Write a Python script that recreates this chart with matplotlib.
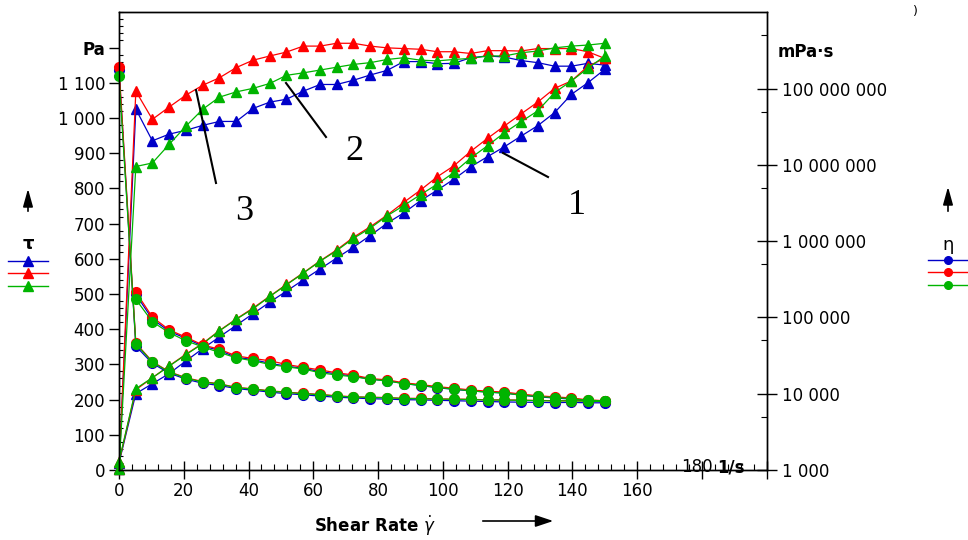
import matplotlib
matplotlib.use("Agg")
import matplotlib.pyplot as plt
from matplotlib.lines import Line2D
from matplotlib.ticker import MultipleLocator, FixedLocator, NullFormatter

# shear rate points (1/s), same for ramp up and ramp down
rate = [0, 5.2, 10.3, 15.5, 20.7, 25.9, 31.0, 36.2, 41.4, 46.6,
        51.7, 56.9, 62.1, 67.2, 72.4, 77.6, 82.8, 87.9, 93.1, 98.3,
        103.4, 108.6, 113.8, 119.0, 124.1, 129.3, 134.5, 139.7, 144.8, 150.0]

# shear stress tau (Pa), ramp up
tau_up_blue = [20, 217, 245, 274, 310, 345, 378, 411, 444, 477,
               508, 540, 571, 602, 633, 666, 701, 730, 765, 795,
               826, 861, 890, 918, 948, 978, 1015, 1067, 1100, 1138]
tau_up_red = [22, 228, 262, 296, 329, 360, 396, 429, 460, 494,
              527, 560, 594, 625, 661, 691, 724, 760, 795, 833,
              864, 905, 942, 977, 1011, 1045, 1084, 1105, 1147, 1169]
tau_up_green = [24, 231, 262, 295, 328, 359, 395, 428, 458, 493,
                526, 559, 593, 623, 658, 687, 722, 751, 782, 812,
                845, 886, 921, 958, 989, 1020, 1072, 1105, 1141, 1176]

# shear stress tau (Pa), ramp down (listed from low rate to high rate)
tau_dn_blue = [2, 1025, 935, 954, 965, 979, 990, 990, 1027, 1045,
               1053, 1076, 1095, 1095, 1107, 1122, 1135, 1160, 1160, 1154,
               1155, 1171, 1176, 1173, 1163, 1157, 1147, 1147, 1155, 1150]
tau_dn_red = [3, 1076, 996, 1031, 1065, 1093, 1114, 1143, 1164, 1176,
              1187, 1204, 1204, 1212, 1212, 1204, 1199, 1197, 1195, 1188,
              1188, 1183, 1191, 1191, 1190, 1197, 1197, 1197, 1188, 1169]
tau_dn_green = [2, 862, 872, 925, 977, 1025, 1059, 1074, 1084, 1098,
                1121, 1128, 1136, 1144, 1152, 1157, 1166, 1171, 1164, 1162,
                1166, 1169, 1176, 1176, 1185, 1190, 1199, 1204, 1207, 1212]

# viscosity eta (mPa·s), ramp up
eta_up_blue = [1.75e8, 4.2e4, 2.5e4, 1.86e4, 1.55e4, 1.37e4, 1.28e4, 1.17e4, 1.11e4, 1.05e4,
               1.0e4, 9.7e3, 9.3e3, 9.0e3, 8.8e3, 8.6e3, 8.5e3, 8.35e3, 8.3e3, 8.2e3,
               8.1e3, 8.0e3, 7.9e3, 7.8e3, 7.75e3, 7.7e3, 7.65e3, 7.7e3, 7.6e3, 7.6e3]
eta_up_red = [1.92e8, 4.6e4, 2.64e4, 1.94e4, 1.62e4, 1.44e4, 1.35e4, 1.21e4, 1.16e4, 1.09e4,
              1.05e4, 1.01e4, 9.8e3, 9.4e3, 9.1e3, 9.0e3, 8.9e3, 8.7e3, 8.7e3, 8.55e3,
              8.5e3, 8.45e3, 8.3e3, 8.3e3, 8.25e3, 8.15e3, 8.1e3, 8.1e3, 8.05e3, 8.0e3]
eta_up_green = [1.46e8, 4.5e4, 2.6e4, 1.92e4, 1.6e4, 1.42e4, 1.34e4, 1.2e4, 1.15e4, 1.08e4,
                1.04e4, 1.0e4, 9.7e3, 9.3e3, 9.05e3, 8.95e3, 8.85e3, 8.65e3, 8.6e3, 8.5e3,
                8.45e3, 8.4e3, 8.25e3, 8.25e3, 8.2e3, 8.1e3, 8.05e3, 8.05e3, 8.0e3, 7.95e3]

# viscosity eta (mPa·s), ramp down, rate[1:] (no value at rate 0)
eta_dn_blue = [2.0e5, 9.5e4, 6.6e4, 5.3e4, 4.2e4, 3.7e4, 3.0e4, 2.8e4, 2.5e4, 2.3e4,
               2.15e4, 1.95e4, 1.82e4, 1.7e4, 1.55e4, 1.48e4, 1.36e4, 1.28e4, 1.2e4, 1.14e4,
               1.09e4, 1.05e4, 1.02e4, 9.6e3, 9.1e3, 8.8e3, 8.5e3, 8.0e3, 7.9e3]
eta_dn_red = [2.16e5, 1.01e5, 6.87e4, 5.5e4, 4.35e4, 3.83e4, 3.13e4, 2.9e4, 2.7e4, 2.42e4,
              2.22e4, 2.05e4, 1.88e4, 1.76e4, 1.58e4, 1.52e4, 1.39e4, 1.32e4, 1.24e4, 1.18e4,
              1.12e4, 1.08e4, 1.05e4, 9.9e3, 9.4e3, 9.1e3, 8.8e3, 8.3e3, 8.1e3]
eta_dn_green = [1.73e5, 8.77e4, 6.31e4, 4.94e4, 4.1e4, 3.48e4, 2.95e4, 2.7e4, 2.42e4, 2.25e4,
                2.11e4, 1.88e4, 1.76e4, 1.67e4, 1.55e4, 1.47e4, 1.36e4, 1.29e4, 1.21e4, 1.15e4,
                1.09e4, 1.05e4, 1.02e4, 9.6e3, 9.2e3, 8.9e3, 8.6e3, 8.2e3, 8.05e3]

left_ticks = [0, 100, 200, 300, 400, 500, 600, 700, 800, 900, 1000, 1100, 1200]
left_labels = ["0", "100", "200", "300", "400", "500", "600", "700", "800", "900",
               "1 000", "1 100", "Pa"]
x_ticks = [0, 20, 40, 60, 80, 100, 120, 140, 160, 180, 200]
x_labels = ["0", "20", "40", "60", "80", "100", "120", "140", "160", "", ""]
right_ticks = [1e3, 1e4, 1e5, 1e6, 1e7, 1e8]
right_labels = ["1 000", "10 000", "100 000", "1 000 000", "10 000 000", "100 000 000"]
right_minor = [5e3, 5e4, 5e5, 5e6, 5e7, 5e8]

BLUE = "#0000c8"
RED = "#ff0000"
GREEN = "#00b400"

plt.rcParams["font.family"] = "DejaVu Sans"

W, H = 968, 540
fig = plt.figure(figsize=(9.68, 5.4), dpi=100)
ax = fig.add_axes([119 / W, 1 - 470 / H, (766.7 - 119) / W, (470 - 12.3) / H])
ax2 = ax.twinx()

def fx(px):
    return px / W

def fy(py):
    return 1 - py / H

# shear stress: triangles, up ramp then down ramp
for col, up, dn in [(BLUE, tau_up_blue, tau_dn_blue),
                    (RED, tau_up_red, tau_dn_red),
                    (GREEN, tau_up_green, tau_dn_green)]:
    ax.plot(rate + rate[::-1], up + dn[::-1], color=col, lw=0.9, marker="^",
            ms=7, mec=col, mfc=col, clip_on=False)

# viscosity: circles on log axis
for col, up, dn in [(BLUE, eta_up_blue, eta_dn_blue),
                    (RED, eta_up_red, eta_dn_red),
                    (GREEN, eta_up_green, eta_dn_green)]:
    ax2.plot(rate + rate[:0:-1], up + dn[::-1], color=col, lw=0.9, marker="o",
             ms=7, mec=col, mfc=col, clip_on=False)

ax.set_xlim(0, 200)
ax.set_ylim(0, 1300)
ax2.set_yscale("log")
ax2.set_ylim(1e3, 1e9)

ax.set_xticks(x_ticks)
ax.set_xticklabels(x_labels)
ax.xaxis.set_minor_locator(MultipleLocator(4))
ax.set_yticks(left_ticks)
ax.set_yticklabels(left_labels)
ax.yaxis.set_minor_locator(MultipleLocator(20))
ax.get_yticklabels()[-1].set_fontweight("bold")

ax2.yaxis.set_major_locator(FixedLocator(right_ticks))
ax2.set_yticklabels(right_labels)
ax2.yaxis.set_minor_locator(FixedLocator(right_minor))
ax2.yaxis.set_minor_formatter(NullFormatter())

ax.tick_params(axis="y", which="major", direction="out", length=7, width=1,
               labelsize=12, pad=3)
ax.tick_params(axis="y", which="minor", direction="in", length=3, width=0.8)
ax.tick_params(axis="x", which="major", direction="inout", length=13, width=1,
               labelsize=12, pad=2)
ax.tick_params(axis="x", which="minor", direction="in", length=4, width=0.8)
ax2.tick_params(axis="y", which="major", direction="inout", length=14, width=1,
                labelsize=12, pad=4)
ax2.tick_params(axis="y", which="minor", direction="in", length=4, width=0.8)

for a in (ax, ax2):
    for s in a.spines.values():
        s.set_linewidth(1)
        s.set_color("black")

# unit labels
fig.text(fx(778), fy(52), "mPa·s", fontsize=12, fontweight="bold", ha="left", va="center")
fig.text(fx(697), fy(467), "180", fontsize=12, ha="center", va="center")
fig.text(fx(731), fy(467), "1/s", fontsize=12, fontweight="bold", ha="center", va="center")
fig.text(fx(915), fy(12), ")", fontsize=9, ha="center", va="center")

# x axis title with arrow
fig.text(fx(375), fy(526), r"Shear Rate $\dot{\gamma}$", fontsize=12, fontweight="bold",
         ha="center", va="center")
fig.add_artist(matplotlib.patches.FancyArrowPatch(
    (fx(480), fy(521)), (fx(556), fy(521)), transform=fig.transFigure,
    arrowstyle="-|>,head_length=0.9,head_width=0.3", color="black", lw=1.2,
    mutation_scale=12))

# left legend: tau
fig.add_artist(matplotlib.patches.FancyArrowPatch(
    (fx(28), fy(214)), (fx(28), fy(186)), transform=fig.transFigure,
    arrowstyle="-|>,head_length=0.9,head_width=0.25", color="black", lw=1.2,
    mutation_scale=12))
fig.text(fx(28), fy(244), "τ", fontsize=13, fontweight="bold", ha="center", va="center")
for py, col in [(261, BLUE), (273, RED), (286, GREEN)]:
    fig.add_artist(Line2D([fx(8), fx(48)], [fy(py), fy(py)], color=col, lw=1,
                          transform=fig.transFigure))
    fig.add_artist(Line2D([fx(28)], [fy(py)], color=col, marker="^", ms=7,
                          transform=fig.transFigure))

# right legend: eta
fig.add_artist(matplotlib.patches.FancyArrowPatch(
    (fx(948), fy(214)), (fx(948), fy(184)), transform=fig.transFigure,
    arrowstyle="-|>,head_length=0.9,head_width=0.25", color="black", lw=1.2,
    mutation_scale=12))
fig.text(fx(948), fy(245), "η", fontsize=13, ha="center", va="center")
for py, col in [(260, BLUE), (272, RED), (285, GREEN)]:
    fig.add_artist(Line2D([fx(928), fx(968)], [fy(py), fy(py)], color=col, lw=1,
                          transform=fig.transFigure))
    fig.add_artist(Line2D([fx(948)], [fy(py)], color=col, marker="o", ms=5.5,
                          transform=fig.transFigure))

# curve numbers
for (x0, y0, x1, y1), (tx, ty), s in [((503, 153, 548, 177), (577, 205), "1"),
                                      ((286, 83, 326, 137), (354, 152), "2"),
                                      ((196, 90, 216, 183), (244, 212), "3")]:
    fig.add_artist(Line2D([fx(x0), fx(x1)], [fy(y0), fy(y1)], color="black", lw=1.5,
                          transform=fig.transFigure))
    fig.text(fx(tx), fy(ty), s, fontsize=26, family="Liberation Serif",
             ha="center", va="center")

fig.savefig("out.png", dpi=100)
